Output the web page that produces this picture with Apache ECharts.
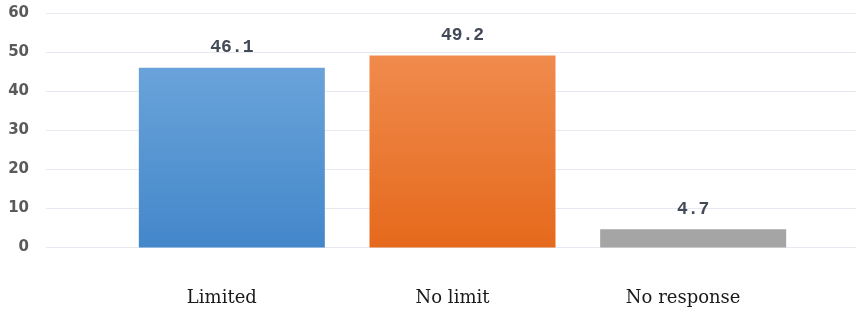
<!DOCTYPE html>
<html><head><meta charset="utf-8">
<script src="https://cdn.jsdelivr.net/npm/echarts@6/dist/echarts.min.js"></script>
<style>html,body{margin:0;padding:0;background:#fff}#c{width:858px;height:316px}</style>
</head><body><div id="c"></div>
<script>
const categories = ['Limited', 'No limit', 'No response'];
const values = [46.1, 49.2, 4.7];
const yTicks = [0, 10, 20, 30, 40, 50, 60];

const barColors = [
  new echarts.graphic.LinearGradient(0,0,0,1,[{offset:0,color:'#6aa3da'},{offset:1,color:'#4387ca'}]),
  new echarts.graphic.LinearGradient(0,0,0,1,[{offset:0,color:'#f08b4d'},{offset:1,color:'#e5691c'}]),
  '#a5a5a5'
];

const chart = echarts.init(document.getElementById('c'));
const gridTop = 13.5, gridBottom = 316 - 247.5;
chart.setOption({
  animation: false,
  grid: [
    {left: 46, right: 2, top: gridTop, bottom: gridBottom, containLabel: false},
    {left: 116.5, width: 692, top: gridTop, bottom: gridBottom, containLabel: false}
  ],
  xAxis: [
    {gridIndex: 0, type: 'category', data: [''], show: false},
    {gridIndex: 1, type: 'category', data: categories,
     axisLine: {show: false}, axisTick: {show: false},
     axisLabel: {margin: 42, fontFamily: 'DejaVu Serif', fontSize: 18, color: '#1a1a1a',
                 padding: [0, 20, 0, 0]}}
  ],
  yAxis: [
    {gridIndex: 0, type: 'value', min: yTicks[0], max: yTicks[yTicks.length-1], interval: 10,
     axisLine: {show: false}, axisTick: {show: false},
     axisLabel: {margin: 17, fontFamily: 'DejaVu Sans', fontWeight: 'bold', fontSize: 15, color: '#5a5a5a'},
     splitLine: {lineStyle: {color: '#e6eaf0', width: 1}}},
    {gridIndex: 1, type: 'value', min: 0, max: 60, interval: 10, show: false}
  ],
  series: [{
    type: 'bar', xAxisIndex: 1, yAxisIndex: 1,
    barWidth: 186,
    data: values.map((v, i) => ({value: v, itemStyle: {color: barColors[i]}})),
    label: {show: true, position: 'top', distance: 11, fontFamily: 'Liberation Mono', fontWeight: 'bold',
            fontSize: 18, color: '#434b58', formatter: p => p.value.toFixed(1)}
  }]
});
</script></body></html>
